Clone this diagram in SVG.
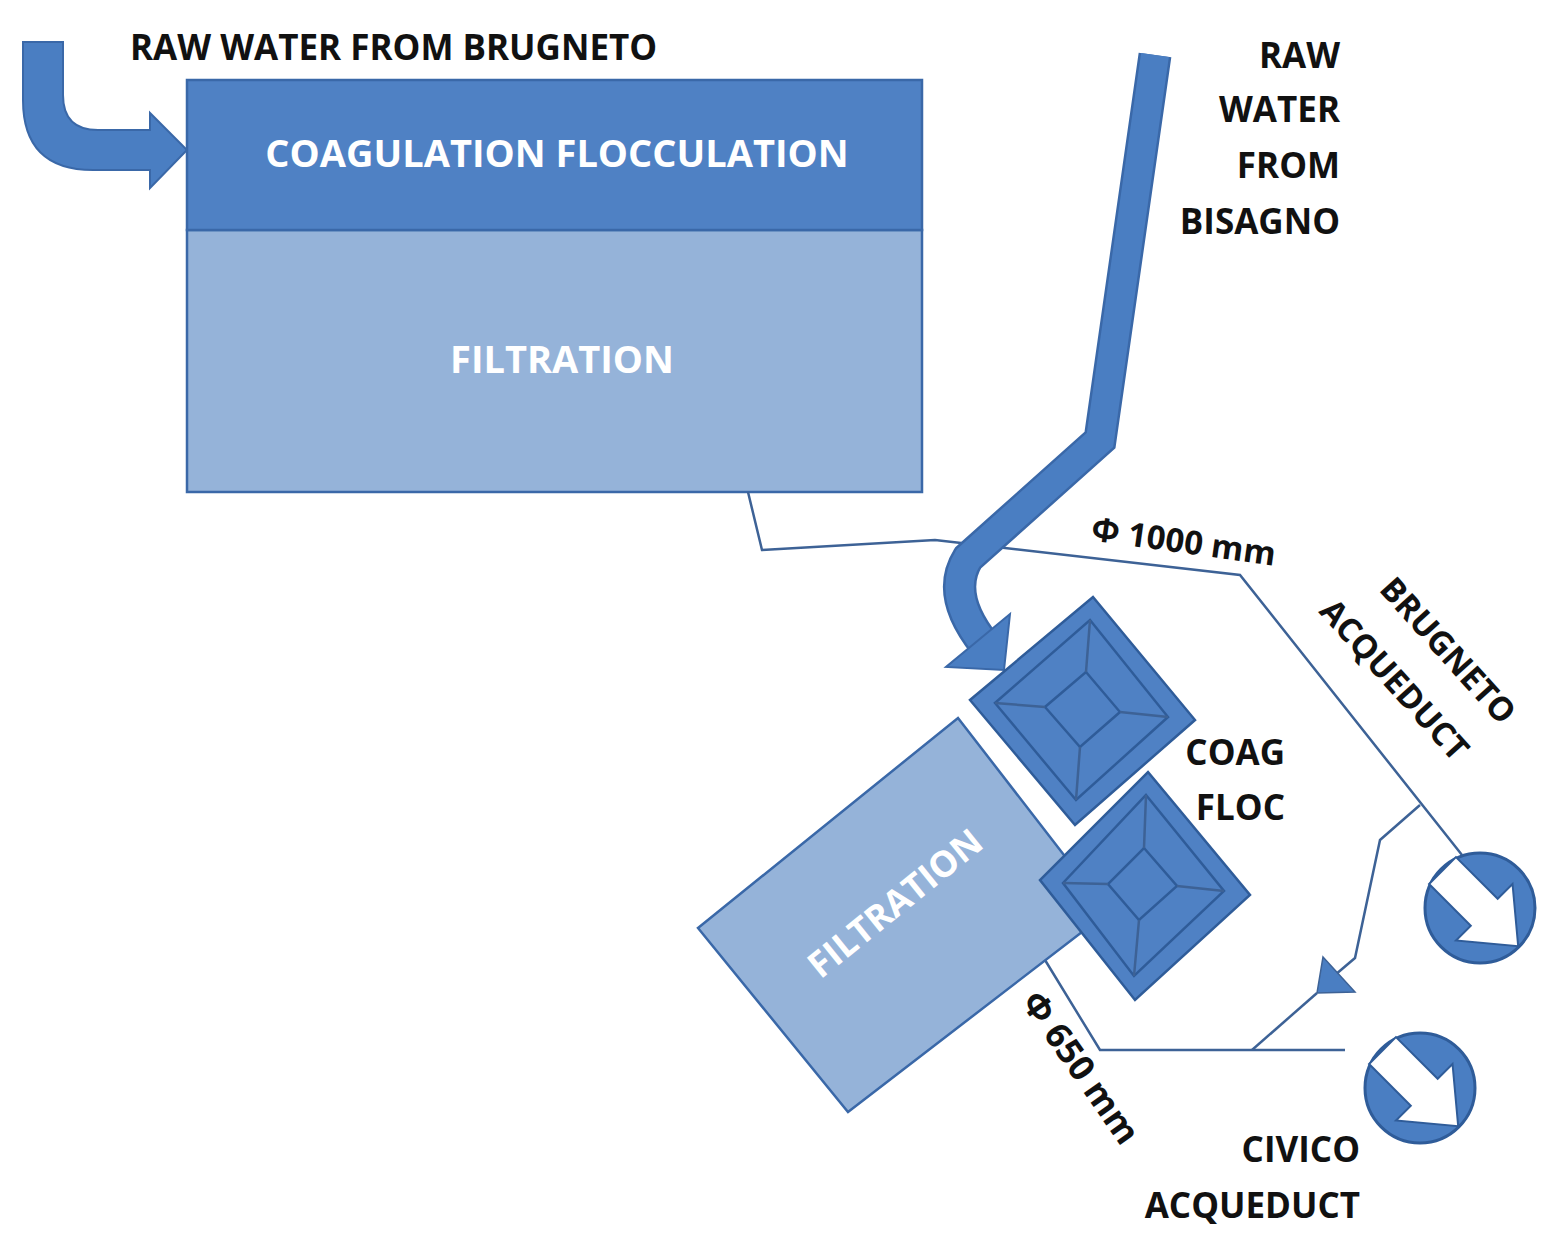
<svg xmlns="http://www.w3.org/2000/svg" width="1564" height="1248" viewBox="0 0 1564 1248">
<style>
.t{font-family:"Open Sans","Liberation Sans",sans-serif;font-weight:700;fill:#111}
.w{font-family:"Open Sans","Liberation Sans",sans-serif;font-weight:700;fill:#fff}
.dk{fill:#4f81c4;stroke:#3a68a8;stroke-width:2.5}
.lt{fill:#95b3d9;stroke:#3a68a8;stroke-width:2.5}
.ln{fill:none;stroke:#3d6296;stroke-width:2.5}
.sq{fill:#4f81c4;stroke:#2f5c99;stroke-width:2.5}
</style>
<rect width="1564" height="1248" fill="#fff"/>
<g id="brugneto-arrow">
<path d="M23,42 H63 V95 Q63,130 98,130 H150 V113 L187,150 L150,188 V170 H93 Q23,170 23,100 Z" fill="#4a7ec2" stroke="#3a68a8" stroke-width="2"/>
</g>
<g id="main-plant">
<rect x="187" y="230" width="735" height="262" class="lt"/>
<rect x="187" y="80" width="735" height="150" class="dk"/>
<text x="557" y="167" class="w" font-size="38" text-anchor="middle">COAGULATION FLOCCULATION</text>
<text x="562" y="373" class="w" font-size="38" text-anchor="middle">FILTRATION</text>
</g>
<g id="connectors">
<path class="ln" d="M748,492 L762,550 L935,540 L1240,575 L1462,855"/>
<path class="ln" d="M1420,805 L1380,840 L1355,958 L1335,975"/>
<polygon points="1323,957 1355,992 1317,993" fill="#4a7ec2" stroke="#3d6296" stroke-width="1.5"/>
<path class="ln" d="M1317,993 L1252,1050"/>
<path class="ln" d="M1045,960 L1100,1050 L1345,1050"/>
</g>
<g id="bisagno-arrow">
<path d="M1155,55 L1100,440 L968,558 Q945,595 985,645" fill="none" stroke="#3a68a8" stroke-width="33" stroke-linejoin="miter"/>
<path d="M1155,55 L1100,440 L968,558 Q945,595 985,645" fill="none" stroke="#4a7ec2" stroke-width="28" stroke-linejoin="miter"/>
<polygon points="1010,614 1004,670 946,667" fill="#4a7ec2" stroke="#3a68a8" stroke-width="2"/>
</g>
<g id="filtration2">
<polygon points="698,928 958,718 1108,912 848,1112" class="lt"/>
<text transform="translate(903,913) rotate(-39)" class="w" font-size="36" text-anchor="middle">FILTRATION</text>
</g>
<g id="coag-square">
<polygon points="1093,597 1195,720 1075,825 970,700" class="sq"/>
<polygon points="1090,620 1168,717 1076,800 995,703" class="sq"/>
<polygon points="1086,672 1120,712 1080,747 1045,707" class="sq"/>
<path class="ln" stroke="#2f5c99" d="M1090,620 L1086,672 M1168,717 L1120,712 M1076,800 L1080,747 M995,703 L1045,707"/>
</g>
<g id="floc-square">
<polygon points="1148,772 1250,895 1135,1000 1040,880" class="sq"/>
<polygon points="1146,795 1224,891 1134,976 1063,883" class="sq"/>
<polygon points="1144,848 1177,886 1139,920 1108,884" class="sq"/>
<path class="ln" stroke="#2f5c99" d="M1146,795 L1144,848 M1224,891 L1177,886 M1134,976 L1139,920 M1063,883 L1108,884"/>
</g>
<g id="outlet-brugneto">
<circle cx="1480" cy="908" r="55" fill="#4a7ec2" stroke="#2f5c99" stroke-width="3"/>
<polygon transform="translate(1480,908) rotate(45)" points="-53,-19 6,-19 6,-40 54,0 6,40 6,19 -53,19" fill="#fff" stroke="#2f5c99" stroke-width="2"/>
</g>
<g id="outlet-civico">
<circle cx="1420" cy="1088" r="55" fill="#4a7ec2" stroke="#2f5c99" stroke-width="3"/>
<polygon transform="translate(1420,1088) rotate(45)" points="-53,-19 6,-19 6,-40 54,0 6,40 6,19 -53,19" fill="#fff" stroke="#2f5c99" stroke-width="2"/>
</g>
<g id="labels">
<text x="130" y="60" class="t" font-size="35">RAW WATER FROM BRUGNETO</text>
<text x="1340" y="68" class="t" font-size="35" text-anchor="end">RAW</text>
<text x="1340" y="122" class="t" font-size="35" text-anchor="end">WATER</text>
<text x="1340" y="178" class="t" font-size="35" text-anchor="end">FROM</text>
<text x="1340" y="234" class="t" font-size="35" text-anchor="end">BISAGNO</text>
<text transform="translate(1090,540) rotate(8)" class="t" font-size="33">Φ 1000 mm</text>
<text transform="translate(1378,590) rotate(48)" class="t" font-size="33">BRUGNETO</text>
<text transform="translate(1318,612) rotate(48)" class="t" font-size="33">ACQUEDUCT</text>
<text x="1285" y="765" class="t" font-size="35" text-anchor="end">COAG</text>
<text x="1285" y="820" class="t" font-size="35" text-anchor="end">FLOC</text>
<text transform="translate(1020,1002) rotate(55)" class="t" font-size="35">Φ 650 mm</text>
<text x="1360" y="1162" class="t" font-size="35" text-anchor="end">CIVICO</text>
<text x="1360" y="1218" class="t" font-size="35" text-anchor="end">ACQUEDUCT</text>
</g>
</svg>
